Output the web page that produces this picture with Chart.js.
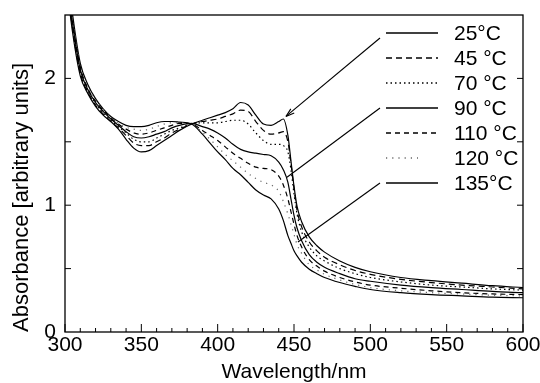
<!DOCTYPE html>
<html>
<head>
<meta charset="utf-8">
<script src="https://cdn.jsdelivr.net/npm/chart.js@4.4.1/dist/chart.umd.min.js"></script>
<style>
  html, body { margin: 0; padding: 0; background: #fff; }
  #wrap { width: 540px; height: 383px; }
</style>
</head>
<body>
<div id="wrap"><canvas id="absorbanceChart" width="540" height="383"></canvas></div>
<script>
// wavelength grid (nm) shared by all spectra
const wavelengths = [300, 305, 310, 315, 320, 325, 330, 335, 340, 345, 350, 355, 360, 365, 370, 375, 383,
  390, 395, 400, 405, 410, 415, 420, 425, 430, 435, 440, 443, 446, 448, 450, 452, 455, 460, 465, 470,
  480, 490, 500, 520, 540, 560, 580, 600];

const temperatures = ["25°C", "45 °C", "70 °C", "90 °C", "110 °C", "120 °C", "135°C"];

const abs25 = [2.85, 2.36, 2.02, 1.88, 1.78, 1.71, 1.66, 1.60, 1.52, 1.45, 1.42, 1.43, 1.47, 1.51, 1.55, 1.59, 1.64,
  1.67, 1.69, 1.71, 1.73, 1.76, 1.81, 1.79, 1.71, 1.64, 1.63, 1.66, 1.68, 1.55, 1.35, 1.15, 0.99, 0.87, 0.75, 0.68, 0.63,
  0.56, 0.51, 0.475, 0.43, 0.405, 0.385, 0.365, 0.35];
const abs45 = [2.88, 2.39, 2.04, 1.89, 1.79, 1.72, 1.66, 1.61, 1.55, 1.49, 1.47, 1.47, 1.50, 1.53, 1.57, 1.60, 1.64,
  1.66, 1.67, 1.68, 1.70, 1.72, 1.75, 1.74, 1.66, 1.59, 1.56, 1.57, 1.58, 1.50, 1.33, 1.13, 0.96, 0.83, 0.71, 0.64, 0.59,
  0.53, 0.485, 0.455, 0.415, 0.39, 0.37, 0.355, 0.34];
const abs70 = [2.90, 2.41, 2.06, 1.90, 1.80, 1.73, 1.67, 1.62, 1.57, 1.52, 1.50, 1.50, 1.53, 1.56, 1.59, 1.61, 1.64,
  1.65, 1.65, 1.65, 1.66, 1.67, 1.67, 1.64, 1.57, 1.51, 1.48, 1.48, 1.47, 1.42, 1.28, 1.09, 0.93, 0.79, 0.67, 0.60, 0.56,
  0.50, 0.46, 0.43, 0.395, 0.37, 0.355, 0.34, 0.33];
const abs90 = [2.92, 2.43, 2.07, 1.91, 1.81, 1.74, 1.68, 1.63, 1.58, 1.54, 1.53, 1.54, 1.56, 1.58, 1.61, 1.63, 1.645,
  1.62, 1.60, 1.57, 1.53, 1.48, 1.44, 1.42, 1.41, 1.40, 1.39, 1.34, 1.28, 1.18, 1.05, 0.92, 0.82, 0.72, 0.61, 0.55, 0.51,
  0.46, 0.42, 0.40, 0.37, 0.35, 0.335, 0.32, 0.31];
const abs110 = [2.95, 2.45, 2.09, 1.92, 1.82, 1.75, 1.69, 1.64, 1.60, 1.57, 1.56, 1.57, 1.59, 1.61, 1.63, 1.645, 1.64,
  1.59, 1.55, 1.51, 1.46, 1.41, 1.37, 1.33, 1.30, 1.29, 1.28, 1.23, 1.16, 1.05, 0.95, 0.85, 0.76, 0.67, 0.57, 0.52, 0.48,
  0.43, 0.395, 0.37, 0.345, 0.325, 0.31, 0.30, 0.295];
const abs120 = [2.97, 2.47, 2.10, 1.93, 1.83, 1.755, 1.695, 1.645, 1.615, 1.60, 1.59, 1.60, 1.62, 1.64, 1.65, 1.65, 1.64,
  1.575, 1.52, 1.46, 1.40, 1.35, 1.30, 1.25, 1.21, 1.18, 1.16, 1.11, 1.03, 0.93, 0.85, 0.77, 0.69, 0.62, 0.53, 0.49, 0.455,
  0.41, 0.375, 0.35, 0.325, 0.31, 0.30, 0.29, 0.285];
const abs135 = [3.00, 2.50, 2.12, 1.95, 1.84, 1.76, 1.70, 1.66, 1.63, 1.62, 1.62, 1.63, 1.65, 1.66, 1.66, 1.655, 1.64,
  1.56, 1.49, 1.42, 1.36, 1.29, 1.24, 1.18, 1.12, 1.08, 1.05, 0.97, 0.88, 0.76, 0.70, 0.64, 0.60, 0.55, 0.495, 0.46, 0.43,
  0.39, 0.36, 0.335, 0.31, 0.295, 0.285, 0.275, 0.27];

const spectra = [abs25, abs45, abs70, abs90, abs110, abs120, abs135];

// labelled ticks
const xTickLabels = [300, 350, 400, 450, 500, 550, 600];
const yTickLabels = [0, 1, 2];

// line styles, one per temperature
const lineStyles = [
    { dash: [], color: "#000" },
    { dash: [6, 4], color: "#000" },
    { dash: [1.5, 3], color: "#000" },
    { dash: [], color: "#000" },
    { dash: [5, 4], color: "#000" },
    { dash: [1.2, 5], color: "#666" },
    { dash: [], color: "#000" }
];

// pointers from legend entries to curves: [legend index, wavelength, absorbance, arrowhead]
const arrowTargets = [
    [0, 444.7, 1.70, true],
    [3, 445.4, 1.22, false],
    [6, 452.6, 0.71, false]
];

const FONT = "'Liberation Sans', Arial, Helvetica, sans-serif";

const frameAndLegend = {
    id: "frameAndLegend",
    afterDatasetsDraw(chart) {
        const ctx = chart.ctx;
        const a = chart.chartArea;
        const x = chart.scales.x;
        const y = chart.scales.y;

        function seg(x1, y1, x2, y2) {
            ctx.beginPath();
            ctx.moveTo(x1, y1);
            ctx.lineTo(x2, y2);
            ctx.stroke();
        }

        ctx.save();
        ctx.strokeStyle = "#000";
        ctx.lineWidth = 1.3;
        ctx.setLineDash([]);
        ctx.strokeRect(a.left, a.top, a.right - a.left, a.bottom - a.top);

        // inward ticks
        ctx.lineWidth = 1;
        for (let v = 300; v <= 600; v += 10) {
            const px = x.getPixelForValue(v);
            seg(px, a.bottom, px, a.bottom - (v % 50 === 0 ? 8 : 4));
        }
        for (let v = 0.5; v < 2.5; v += 0.5) {
            const py = y.getPixelForValue(v);
            seg(a.left, py, a.left + 6, py);
            seg(a.right, py, a.right - 6, py);
        }

        // legend
        const lx1 = 386, lx2 = 438, tx = 454, ly0 = 33, dy = 25;
        ctx.font = "21px " + FONT;
        ctx.textBaseline = "middle";
        ctx.fillStyle = "#000";
        temperatures.forEach(function(t, i) {
            const ly = ly0 + i * dy;
            ctx.strokeStyle = lineStyles[i].color;
            ctx.lineWidth = 1.3;
            ctx.setLineDash(lineStyles[i].dash);
            seg(lx1, ly, i === 5 ? 418 : lx2, ly);
            ctx.setLineDash([]);
            ctx.fillText(t, tx, ly + 1);
        });

        // pointer lines
        ctx.strokeStyle = "#000";
        ctx.lineWidth = 1.1;
        arrowTargets.forEach(function(t) {
            const sx = lx1 - 6;
            const sy = ly0 + t[0] * dy + (t[0] === 0 ? 5 : 0);
            const ex = x.getPixelForValue(t[1]);
            const ey = y.getPixelForValue(t[2]);
            seg(sx, sy, ex, ey);
            if (t[3]) {
                const ang = Math.atan2(ey - sy, ex - sx);
                const len = 9;
                ctx.beginPath();
                ctx.moveTo(ex, ey);
                ctx.lineTo(ex - len * Math.cos(ang - 0.3), ey - len * Math.sin(ang - 0.3));
                ctx.moveTo(ex, ey);
                ctx.lineTo(ex - len * Math.cos(ang + 0.3), ey - len * Math.sin(ang + 0.3));
                ctx.stroke();
            }
        });
        ctx.restore();
    }
};

const ctx = document.getElementById("absorbanceChart");

new Chart(ctx, {
    type: "line",
    data: {
        datasets: spectra.map(function(vals, i) {
            return {
                label: temperatures[i],
                data: wavelengths.map(function(w, k) { return { x: w, y: vals[k] }; }),
                borderColor: lineStyles[i].color,
                borderDash: lineStyles[i].dash,
                borderWidth: 1.2,
                pointRadius: 0,
                fill: false,
                cubicInterpolationMode: "monotone"
            };
        })
    },
    options: {
        responsive: false,
        animation: false,
        layout: { padding: { top: 15, right: 17, left: 0, bottom: 0 } },
        plugins: {
            legend: { display: false },
            tooltip: { enabled: false }
        },
        scales: {
            x: {
                type: "linear",
                min: 300,
                max: 600,
                grid: { display: false, drawTicks: false },
                border: { display: false },
                ticks: {
                    stepSize: 10,
                    autoSkip: false,
                    maxRotation: 0,
                    padding: 1,
                    color: "#000",
                    font: { family: FONT, size: 21 },
                    callback: function(v) { return xTickLabels.includes(v) ? String(v) : ""; }
                },
                title: {
                    display: true,
                    text: "Wavelength/nm",
                    color: "#000",
                    font: { family: FONT, size: 21, lineHeight: 1 },
                    padding: 0
                },
                afterFit: function(s) {
                    s.height = 51;
                    s.paddingLeft = 0;
                    s.paddingRight = 0;
                }
            },
            y: {
                min: 0,
                max: 2.5,
                grid: { display: false, drawTicks: false },
                border: { display: false },
                ticks: {
                    stepSize: 0.5,
                    padding: 9,
                    color: "#000",
                    font: { family: FONT, size: 21 },
                    callback: function(v) { return yTickLabels.includes(v) ? String(v) : ""; }
                },
                title: {
                    display: true,
                    text: "Absorbance [arbitrary units]",
                    align: "start",
                    color: "#000",
                    font: { family: FONT, size: 22, lineHeight: 1.2 },
                    padding: { top: 9, bottom: 0 }
                },
                afterFit: function(s) {
                    s.width = 65;
                    s.paddingTop = 0;
                    s.paddingBottom = 0;
                }
            }
        }
    },
    plugins: [frameAndLegend]
});
</script>
</body>
</html>
